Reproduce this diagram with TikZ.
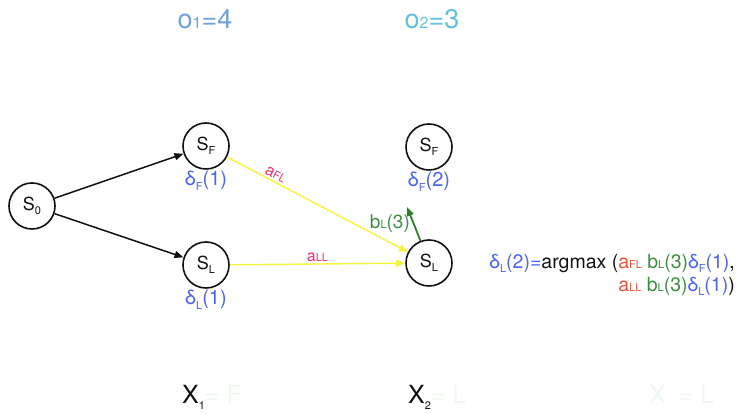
\documentclass[tikz,border=0pt]{standalone}
\usepackage{fontspec}
\setmainfont{TeX Gyre Heros}
\usetikzlibrary{arrows.meta,positioning}
\definecolor{ink}{HTML}{111111}
\definecolor{deltablue}{HTML}{4A63F2}
\definecolor{trans}{HTML}{F4F43C}
\definecolor{transtxt}{HTML}{E8336E}
\definecolor{emit}{HTML}{2E7D32}
\definecolor{emittxt}{HTML}{3E8E41}
\definecolor{afl}{HTML}{E0573C}
\definecolor{obsone}{HTML}{6FA3DC}
\definecolor{obstwo}{HTML}{66BFE0}
\definecolor{faint}{HTML}{EEF8EE}
\tikzset{
  every node/.style={text=ink},
  state/.style={circle,draw=ink,line width=1.6pt,minimum size=46pt,inner sep=0pt,font=\fontsize{18}{18}\selectfont},
  delta/.style={text=deltablue,font=\fontsize{20}{20}\selectfont,inner sep=1pt},
  obs/.style={font=\fontsize{27}{27}\selectfont},
  hidden/.style={font=\fontsize{25}{25}\selectfont,inner sep=0pt},
  arrow/.style={-{Triangle[length=9pt,width=7pt]},line width=1.5pt,draw=ink},
  transarr/.style={-{Triangle[length=9pt,width=7pt]},line width=1.4pt,draw=trans},
  emitarr/.style={-{Triangle[length=9pt,width=7pt]},line width=1.8pt,draw=emit},
  label/.style={font=\fontsize{16}{16}\selectfont,inner sep=2pt},
}
\newcommand{\lo}[1]{\raisebox{-.45ex}{\fontsize{11}{11}\selectfont #1}}
\newcommand{\sm}[1]{{\fontsize{11}{11}\selectfont #1}}
\newcommand{\ob}[1]{{\fontsize{16}{16}\selectfont #1}}

\begin{document}
\begin{tikzpicture}[x=1pt,y=1pt]
\useasboundingbox (0,0) rectangle (738,414);

% observations
\node[obs,text=obsone] (o1) at (205,395) {o\ob{1}=4};
\node[obs,text=obstwo] (o2) at (432,395) {o\ob{2}=3};

% states
\node[state] (s0) at (32,208) {S\lo{0}};
\node[state] (sf1) at (206,268) {S\lo{F}};
\node[state] (sl1) at (206,149) {S\lo{L}};
\node[state] (sf2) at (429,267) {S\lo{F}};
\node[state] (sl2) at (429,151) {S\lo{L}};

% deltas
\node[delta,below=0pt of sf1] (df1) {δ\lo{F}(1)};
\node[delta,below=0pt of sl1] (dl1) {δ\lo{L}(1)};
\node[delta,below=0pt of sf2] (df2) {δ\lo{F}(2)};

% start
\draw[arrow] (s0) -- (sf1);
\draw[arrow] (s0) -- (sl1);

% transitions
\draw[transarr] (sf1) -- node[label,text=transtxt,above,sloped,pos=0.25] {a\sm{FL}} (sl2);
\draw[transarr] (sl1) -- node[label,text=transtxt,above,pos=0.5] {a\sm{LL}} (sl2);

% emission
\coordinate (b3) at (407,207);
\draw[emitarr] (sl2.111) -- node[label,text=emittxt,left=1pt,font=\fontsize{19}{19}\selectfont] {b\sm{L}(3)} (b3);

% max rule
\node[anchor=east,align=right,font=\fontsize{19.5}{23}\selectfont,inner sep=0pt] (rule) at (735,139)
{\textcolor{deltablue}{δ\lo{L}(2)=}argmax (\textcolor{afl}{a\sm{FL}} \textcolor{emittxt}{b\sm{L}(3)}\textcolor{deltablue}{δ\lo{F}(1)},\\
\textcolor{afl}{a\sm{LL}} \textcolor{emittxt}{b\sm{L}(3)}\textcolor{deltablue}{δ\lo{L}(1)})};

% hidden states
\node[hidden,anchor=west] (x1) at (182,17) {X\lo{1}\textcolor{faint}{ = F}};
\node[hidden,anchor=west] (x2) at (408,17) {X\lo{2}\textcolor{faint}{ = L}};
\node[hidden,anchor=west,text=faint] (x3) at (649,17) {X\phantom{\lo{3}} = L};

\end{tikzpicture}
\end{document}
